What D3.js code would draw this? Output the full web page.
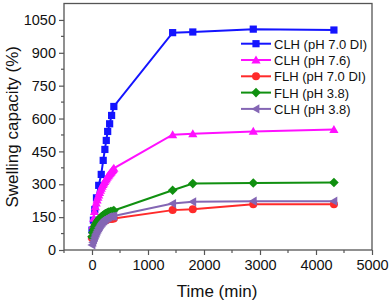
<!DOCTYPE html>
<html>
<head>
<meta charset="utf-8">
<script src="https://cdn.jsdelivr.net/npm/d3@7"></script>
<style>
  body { margin: 0; background: #fff; }
  text { font-family: Arial, "Liberation Sans", sans-serif; fill: #111; font-weight: normal; }
</style>
</head>
<body>
<svg id="chart" width="391" height="306"></svg>
<script>
// series data: [time (min), swelling capacity (%)]
var clh70 = [[0, 91], [25, 136], [50, 185], [80, 238], [120, 295], [165, 345], [200, 409], [230, 459],
    [255, 500], [280, 541], [315, 576], [350, 614], [390, 655], [1440, 992], [1800, 995], [2880, 1008], [4320, 1004]];
var clh76 = [[0, 65], [15, 110], [30, 145], [45, 175], [60, 197], [75, 214], [90, 228], [105, 240], [120, 251],
    [135, 262], [150, 272], [165, 281], [180, 290], [195, 298], [210, 305], [225, 312], [240, 319], [255, 325],
    [270, 331], [285, 337], [300, 342], [315, 347], [330, 352], [345, 357], [360, 362], [375, 367], [390, 373],
    [1440, 526], [1800, 530], [2880, 541], [4320, 550]];
var flh70 = [[0, 55], [30, 80], [60, 95], [90, 105], [120, 113], [150, 120], [180, 126], [210, 131], [240, 135],
    [270, 138], [300, 141], [330, 142], [360, 143], [390, 144], [1440, 182], [1800, 186], [2880, 209], [4320, 209]];
var flh38 = [[0, 60], [15, 80], [30, 95], [45, 106], [60, 115], [75, 122], [90, 128], [105, 134], [120, 139],
    [135, 143], [150, 147], [165, 151], [180, 154], [195, 157], [210, 160], [225, 163], [240, 165], [255, 167],
    [270, 169], [285, 171], [300, 173], [330, 175], [360, 177], [390, 180], [1440, 273], [1800, 303], [2880, 306], [4320, 308]];
var clh38 = [[0, 23], [15, 35], [30, 47], [45, 58], [60, 68], [75, 77], [90, 86], [105, 94], [120, 101],
    [135, 108], [150, 114], [165, 120], [180, 125], [195, 130], [210, 134], [225, 138], [240, 141], [255, 144],
    [270, 147], [285, 149], [300, 151], [330, 153], [360, 154], [390, 155], [1440, 212], [1800, 220], [2880, 223], [4320, 223]];

var seriesNames = ["CLH (pH 7.0 DI)", "CLH (pH 7.6)", "FLH (pH 7.0 DI)", "FLH (pH 3.8)", "CLH (pH 3.8)"];
var xTicks = [0, 1000, 2000, 3000, 4000, 5000];
var yTicks = [0, 150, 300, 450, 600, 750, 900, 1050];

var svg = d3.select("#chart"),
    margin = {left: 64, right: 19, top: 3.5, bottom: 56},
    width = +svg.attr("width") - margin.left - margin.right,
    height = +svg.attr("height") - margin.top - margin.bottom;

var x = d3.scaleLinear().domain([-500, 5000]).range([margin.left, margin.left + width]);
var y = d3.scaleLinear().domain([0, 1125]).range([margin.top + height, margin.top]);

var series = [
    {data: clh70, color: "#1414ff", shape: "square"},
    {data: clh76, color: "#ff10ff", shape: "triangle"},
    {data: flh70, color: "#ff2a2a", shape: "circle"},
    {data: flh38, color: "#109010", shape: "diamond"},
    {data: clh38, color: "#8466b4", shape: "left"}
];

function marker(g, shape, color) {
    if (shape === "square") {
        g.append("rect").attr("x", -3.6).attr("y", -3.6).attr("width", 7.2).attr("height", 7.2).attr("fill", color);
    } else if (shape === "circle") {
        g.append("circle").attr("r", 4).attr("fill", color);
    } else if (shape === "triangle") {
        g.append("path").attr("d", "M0,-4.6L4.6,3.4L-4.6,3.4Z").attr("fill", color);
    } else if (shape === "diamond") {
        g.append("path").attr("d", "M0,-4.8L4.8,0L0,4.8L-4.8,0Z").attr("fill", color);
    } else {
        g.append("path").attr("d", "M-4.6,0L3.4,-4.6L3.4,4.6Z").attr("fill", color);
    }
}

// frame
svg.append("rect")
    .attr("x", margin.left).attr("y", margin.top)
    .attr("width", width).attr("height", height)
    .attr("fill", "none").attr("stroke", "#555").attr("stroke-width", 1.3);

// minor ticks
var xMinor = d3.range(-500, 5001, 500).filter(d => xTicks.indexOf(d) < 0);
svg.append("g").selectAll("line").data(xMinor).enter().append("line")
    .attr("x1", d => x(d)).attr("x2", d => x(d))
    .attr("y1", margin.top + height).attr("y2", margin.top + height + 3)
    .attr("stroke", "#555").attr("stroke-width", 1.2);
var yMinor = d3.range(75, 1125, 150);
svg.append("g").selectAll("line").data(yMinor).enter().append("line")
    .attr("x1", margin.left - 3).attr("x2", margin.left)
    .attr("y1", d => y(d)).attr("y2", d => y(d))
    .attr("stroke", "#555").attr("stroke-width", 1.2);

// axes
var xAxis = svg.append("g")
    .attr("transform", "translate(0," + (margin.top + height) + ")")
    .call(d3.axisBottom(x).tickValues(xTicks).tickFormat(d3.format("d")).tickSize(5).tickPadding(5));
var yAxis = svg.append("g")
    .attr("transform", "translate(" + margin.left + ",0)")
    .call(d3.axisLeft(y).tickValues(yTicks).tickFormat(d3.format("d")).tickSize(5).tickPadding(3));
[xAxis, yAxis].forEach(function (a) {
    a.select(".domain").remove();
    a.selectAll(".tick line").attr("stroke", "#555").attr("stroke-width", 1.2);
    a.selectAll(".tick text").style("font-size", "14.5px").style("font-family", "Arial, 'Liberation Sans', sans-serif").attr("fill", "#111");
});

// axis titles
svg.append("text")
    .attr("x", margin.left + width / 2 - 1).attr("y", 297)
    .attr("text-anchor", "middle").style("font-size", "17px")
    .text("Time (min)");
svg.append("text")
    .attr("transform", "translate(18," + (margin.top + height / 2) + ") rotate(-90)")
    .attr("text-anchor", "middle").style("font-size", "17px")
    .text("Swelling capacity (%)");

// lines and markers
var line = d3.line().x(d => x(d[0])).y(d => y(d[1]));
series.forEach(function (s) {
    svg.append("path")
        .attr("d", line(s.data))
        .attr("fill", "none").attr("stroke", s.color).attr("stroke-width", 2);
    s.data.forEach(function (d) {
        var g = svg.append("g").attr("transform", "translate(" + x(d[0]) + "," + y(d[1]) + ")");
        marker(g, s.shape, s.color);
    });
});

// legend
var legend = svg.append("g");
series.forEach(function (s, i) {
    var ly = 43.7 + i * 16.3;
    legend.append("line")
        .attr("x1", 241).attr("x2", 271).attr("y1", ly).attr("y2", ly)
        .attr("stroke", s.color).attr("stroke-width", 2);
    var g = legend.append("g").attr("transform", "translate(256," + ly + ")");
    marker(g, s.shape, s.color);
    legend.append("text")
        .attr("x", 274).attr("y", ly + 5)
        .style("font-size", "13px")
        .text(seriesNames[i]);
});
</script>
</body>
</html>
